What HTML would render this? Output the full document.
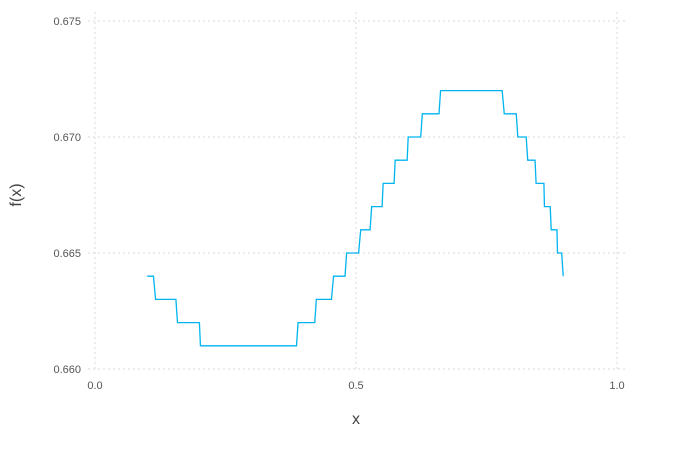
<!DOCTYPE html>
<html><head><meta charset="utf-8"><style>
body{margin:0;background:#fff;}
svg{display:block;font-family:"Liberation Sans",sans-serif;}
</style></head><body>
<svg id="chart" width="676" height="459">
<g id="grid"></g>
<g id="ticks"></g>
<text x="356" y="424" font-size="16" fill="#444" text-anchor="middle">x</text>
<text x="21" y="195" font-size="16" fill="#444" text-anchor="middle" transform="rotate(-90 21 195)">f(x)</text>
<g id="series"></g>
</svg>
<script>
const xTicks=[0,0.5,1];
const xTickLabels=["0.0","0.5","1.0"];
const yTicks=[0.660,0.665,0.670,0.675];
const yTickLabels=["0.660","0.665","0.670","0.675"];
const stepStarts=[0.100,0.116,0.158,0.202,0.389,0.424,0.457,0.482,0.509,0.530,0.552,0.575,0.600,0.627,0.662,0.784,0.810,0.829,0.845,0.861,0.874,0.886,0.897];
const stepEnds=[0.112,0.155,0.200,0.386,0.421,0.453,0.479,0.505,0.527,0.550,0.573,0.598,0.624,0.659,0.780,0.807,0.826,0.843,0.860,0.872,0.885,0.894,0.897];
const levels=[0.664,0.663,0.662,0.661,0.662,0.663,0.664,0.665,0.666,0.667,0.668,0.669,0.670,0.671,0.672,0.671,0.670,0.669,0.668,0.667,0.666,0.665,0.664];
const NS="http://www.w3.org/2000/svg";
const X=v=>95+v*522;
const Y=v=>369-(v-0.660)/0.015*348;
const grid=document.getElementById('grid'),ticks=document.getElementById('ticks'),series=document.getElementById('series');
function mk(t,a){const e=document.createElementNS(NS,t);for(const k in a)e.setAttribute(k,a[k]);return e;}
xTicks.forEach((v,i)=>{
  const l=mk('line',{x1:X(v),x2:X(v),y1:12,y2:372,stroke:'#d8d8df','stroke-dasharray':'2,3'});
  
  
  grid.appendChild(l);
  const t=mk('text',{x:X(v),y:389,'font-size':11,fill:'#555','text-anchor':'middle'});
  t.textContent=xTickLabels[i];
  
  
  ticks.appendChild(t);
});
yTicks.forEach((v,i)=>{
  const l=mk('line',{x1:88,x2:627,y1:Y(v),y2:Y(v),stroke:'#d8d8df','stroke-dasharray':'2,3'});
  
  
  grid.appendChild(l);
  const t=mk('text',{x:81,y:Y(v)+4,'font-size':11,fill:'#555','text-anchor':'end'});
  t.textContent=yTickLabels[i];
  
  
  ticks.appendChild(t);
});
const pts=[];
levels.forEach((lv,i)=>{pts.push(X(stepStarts[i])+','+Y(lv));pts.push(X(stepEnds[i])+','+Y(lv));});
const pl=mk('polyline',{points:pts.join(' '),fill:'none',stroke:'#00b4f0','stroke-width':1.3});


series.appendChild(pl);
</script>
</body></html>
